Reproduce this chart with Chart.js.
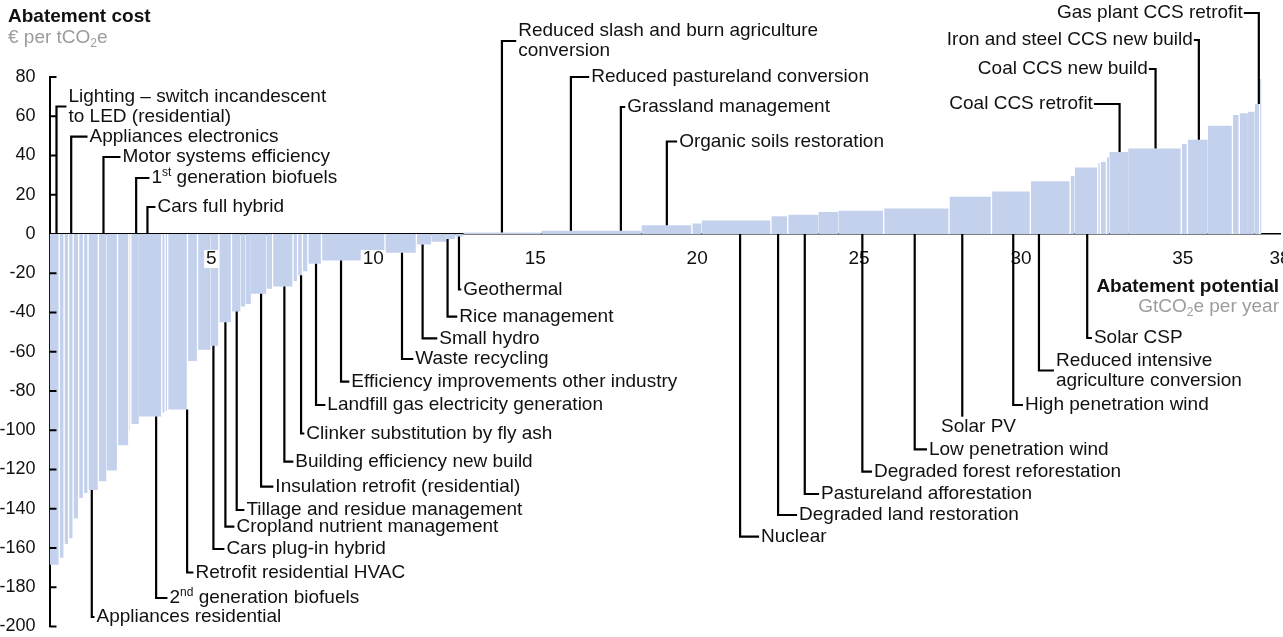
<!DOCTYPE html>
<html>
<head>
<meta charset="utf-8">
<script src="https://cdn.jsdelivr.net/npm/chart.js@4"></script>
<style>
  body { margin: 0; background: #fff; }
  #wrap { width: 1283px; height: 637px; }
</style>
</head>
<body>
<div id="wrap"><canvas id="curve" width="1283" height="637"></canvas></div>
<script>
// abatement potential of each lever (GtCO2e per year), left to right
const widths = [0.30, 0.15, 0.14, 0.14, 0.17, 0.15, 0.14, 0.32, 0.25, 0.34,
                0.35, 0.06, 0.25, 0.71, 0.10, 0.08, 0.61, 0.31, 0.41, 0.25,
                0.39, 0.28, 0.15, 0.17, 0.48, 0.19, 0.63, 0.14, 0.15, 0.17,
                0.42, 1.96, 0.97, 0.46, 0.46, 0.28, 0.25, 2.41, 3.09, 1.56,
                0.30, 2.14, 0.52, 0.94, 0.62, 1.40, 2.02, 1.31, 1.20, 1.23,
                0.14, 0.71, 0.08, 0.19, 0.09, 0.58, 1.64, 0.19, 0.63, 0.76,
                0.21, 0.27, 0.21, 0.15, 0.06];
// abatement cost of each lever (EUR per tCO2e)
const costs = [-168.5, -165, -158, -155, -145, -134.5, -132, -130.5, -126, -120.5,
               -107.7, -100, -96.8, -93, -91, -90, -89.4, -64.7, -59, -57,
               -45, -39.5, -37, -35.7, -30.4, -27.9, -26.7, -24, -21, -19,
               -15.2, -13.5, -9.6, -5.3, -4, -2.5, -1.3, 0.8, 1.7, 4.5,
               5.4, 6.9, 9.1, 9.8, 11.2, 11.9, 13, 19, 21.6, 26.9,
               29.6, 33.9, 36, 36.7, 39, 41.8, 43.6, 45.8, 48, 55.1,
               60.6, 61.5, 62.3, 66.2, 79];
// white separator after these bars (1-based)
const gapAfterBar = [1, 2, 3, 4, 5, 6, 7, 8, 10, 11, 12, 14, 15, 16, 17, 18, 20, 21,
                     26, 27, 28, 29, 30, 31, 32, 33, 40, 42, 43, 46, 47, 48, 49, 50,
                     52, 53, 54, 57, 58, 60, 61, 64];
const xTicks = [5, 10, 15, 20, 25, 30, 35, 38];

// callouts: text, leader position (Gt), leader level (EUR), text start/end (Gt)
const callouts = [
  {t: ['Lighting – switch incandescent', 'to LED (residential)'], at: 0.216, lv: 64.97, tx: 0.586},
  {t: ['Appliances electronics'], at: 0.670, lv: 49.58, tx: 1.235},
  {t: ['Motor systems efficiency'], at: 1.667, lv: 39.24, tx: 2.253},
  {t: ['1^{st} generation biofuels'], at: 2.676, lv: 28.54, tx: 3.148},
  {t: ['Cars full hybrid'], at: 3.025, lv: 13.76, tx: 3.333},
  {t: ['Appliances residential'], at: 1.306, lv: -195.16, tx: 1.451},
  {t: ['2^{nd} generation biofuels'], at: 3.293, lv: -185.48, tx: 3.704},
  {t: ['Retrofit residential HVAC'], at: 4.250, lv: -172.48, tx: 4.506},
  {t: ['Cars plug-in hybrid'], at: 5.062, lv: -160.51, tx: 5.463},
  {t: ['Cropland nutrient management'], at: 5.432, lv: -149.15, tx: 5.772},
  {t: ['Tillage and residue management'], at: 5.781, lv: -140.64, tx: 6.080},
  {t: ['Insulation retrofit (residential)'], at: 6.534, lv: -128.76, tx: 6.975},
  {t: ['Building efficiency new build'], at: 7.253, lv: -116.03, tx: 7.593},
  {t: ['Clinker substitution by fly ash'], at: 7.769, lv: -101.66, tx: 7.932},
  {t: ['Landfill gas electricity generation'], at: 8.231, lv: -87.13, tx: 8.580},
  {t: ['Efficiency improvements other industry'], at: 9.003, lv: -75.26, tx: 9.321},
  {t: ['Waste recycling'], at: 10.886, lv: -63.69, tx: 11.296},
  {t: ['Small hydro'], at: 11.522, lv: -53.15, tx: 12.037},
  {t: ['Rice management'], at: 12.293, lv: -42.14, tx: 12.654},
  {t: ['Geothermal'], at: 12.645, lv: -28.28, tx: 12.778},
  {t: ['Reduced slash and burn agriculture', 'conversion'], at: 13.972, lv: 98.34, tx: 14.475},
  {t: ['Reduced pastureland conversion'], at: 16.102, lv: 80.0, tx: 16.728},
  {t: ['Grassland management'], at: 17.645, lv: 64.71, tx: 17.840},
  {t: ['Organic soils restoration'], at: 19.065, lv: 47.13, tx: 19.444},
  {t: ['Nuclear'], at: 21.327, lv: -154.24, tx: 21.975},
  {t: ['Degraded land restoration'], at: 22.500, lv: -143.18, tx: 23.148},
  {t: ['Pastureland afforestation'], at: 23.324, lv: -132.48, tx: 23.827},
  {t: ['Degraded forest reforestation'], at: 25.102, lv: -121.12, tx: 25.463},
  {t: ['Low penetration wind'], at: 26.719, lv: -109.71, tx: 27.160},
  {t: ['Solar PV'], at: 28.188, lv: -93.10, tx: 27.531, ty: -98.34},
  {t: ['High penetration wind'], at: 29.762, lv: -87.13, tx: 30.123},
  {t: ['Reduced intensive', 'agriculture conversion'], at: 30.556, lv: -69.55, tx: 31.080},
  {t: ['Solar CSP'], at: 32.046, lv: -53.0, tx: 32.253},
  {t: ['Gas plant CCS retrofit'], at: 37.346, lv: 112.61, tx: 36.852},
  {t: ['Iron and steel CCS new build'], at: 35.494, lv: 98.85, tx: 35.309},
  {t: ['Coal CCS new build'], at: 34.157, lv: 84.08, tx: 33.920},
  {t: ['Coal CCS retrofit'], at: 33.046, lv: 66.24, tx: 32.222}
];

const FONT = '"Liberation Sans", Arial, Helvetica, sans-serif';
const BAR = '#c4d1ed';
const LABEL_SIZE = 19;

let acc = 0;
const starts = widths.map(w => { const s = acc; acc += w; return s; });

const datasets = costs.map((c, i) => ({
  data: [{x: starts[i], y: c}, {x: starts[i] + widths[i], y: c}],
  fill: 'origin',
  backgroundColor: BAR,
  borderWidth: 0,
  pointRadius: 0,
  pointHoverRadius: 0
}));

// text with ^{sup} and _{sub} parts
function richParts(str) {
  return str.split(/(\^\{[^}]*\}|_\{[^}]*\})/).filter(s => s.length).map(s => {
    if (s[0] === '^') return {s: s.slice(2, -1), k: 'sup'};
    if (s[0] === '_') return {s: s.slice(2, -1), k: 'sub'};
    return {s: s, k: ''};
  });
}
function drawRich(ctx, str, x, y, align, size, weight, color) {
  const parts = richParts(str);
  const fontOf = k => `${weight} ${k ? Math.round(size * 0.62) : size}px ${FONT}`;
  let total = 0;
  parts.forEach(p => { ctx.font = fontOf(p.k); p.w = ctx.measureText(p.s).width; total += p.w; });
  let cx = align === 'right' ? x - total : align === 'center' ? x - total / 2 : x;
  ctx.fillStyle = color;
  ctx.textAlign = 'left';
  ctx.textBaseline = 'middle';
  parts.forEach(p => {
    ctx.font = fontOf(p.k);
    const dy = p.k === 'sup' ? -size * 0.3 : p.k === 'sub' ? size * 0.28 : 0;
    ctx.fillText(p.s, cx, y + dy);
    cx += p.w;
  });
  return total;
}

function costAt(v) {
  for (let i = 0; i < widths.length; i++) {
    if (v >= starts[i] && v < starts[i] + widths[i]) return costs[i];
  }
  return 0;
}

const curvePlugin = {
  id: 'curve',
  afterDatasetsDraw(chart) {
    const {ctx, scales: {x, y}} = chart;
    const y0 = y.getPixelForValue(0);
    ctx.save();
    ctx.strokeStyle = '#fff';
    ctx.lineWidth = 1.3;
    gapAfterBar.forEach(n => {
      const px = x.getPixelForValue(starts[n]);
      const a = y.getPixelForValue(costs[n - 1]);
      const b = y.getPixelForValue(costs[n]);
      ctx.beginPath();
      ctx.moveTo(px, Math.min(y0, a, b));
      ctx.lineTo(px, Math.max(y0, a, b));
      ctx.stroke();
    });
    ctx.restore();
  },
  afterDraw(chart) {
    const {ctx, chartArea, scales: {x, y}} = chart;
    ctx.save();
    // inner ticks on the cost axis
    ctx.strokeStyle = '#000';
    ctx.lineWidth = 2;
    y.ticks.forEach(t => {
      if (t.value === 0) return;
      const py = y.getPixelForValue(t.value);
      ctx.beginPath();
      ctx.moveTo(chartArea.left, py);
      ctx.lineTo(chartArea.left + 7, py);
      ctx.stroke();
    });

    // potential tick labels, on a white backdrop, just under the zero line
    const ly0 = y.getPixelForValue(0) + 25;
    xTicks.forEach(v => {
      const px = x.getPixelForValue(v);
      ctx.font = `${LABEL_SIZE}px ${FONT}`;
      const w = ctx.measureText(String(v)).width;
      ctx.fillStyle = '#fff';
      ctx.fillRect(px - w / 2 - 2, ly0 - 9, w + 4, 18);
      drawRich(ctx, String(v), px, ly0, 'center', LABEL_SIZE, 'normal', '#111');
    });

    // callouts
    callouts.forEach(c => {
      const lx = x.getPixelForValue(c.at);
      const ly = y.getPixelForValue(c.lv);
      const bc = costAt(c.at);
      const startV = (bc > 0) === (c.lv > 0) ? bc : 0;
      const sy = y.getPixelForValue(startV);
      const tx = x.getPixelForValue(c.tx);
      const free = c.ty !== undefined;
      const right = !free && tx < lx;
      ctx.strokeStyle = '#000';
      ctx.lineWidth = 2.2;
      ctx.lineJoin = 'miter';
      ctx.beginPath();
      ctx.moveTo(lx, sy);
      ctx.lineTo(lx, ly);
      if (!free) ctx.lineTo(right ? tx + 1 : tx - 2, ly);
      ctx.stroke();
      const ty = free ? y.getPixelForValue(c.ty) : ly;
      const n = c.t.length;
      c.t.forEach((line, k) => {
        drawRich(ctx, line, tx, ty + (k - (n - 1) / 2) * 20, right ? 'right' : 'left',
                 LABEL_SIZE, 'normal', '#111');
      });
    });

    // axis titles
    drawRich(ctx, 'Abatement cost', 8, 17, 'left', 19, 'bold', '#111');
    drawRich(ctx, '€ per tCO_{2}e', 8, 38, 'left', 19, 'normal', '#9c9c9c');
    drawRich(ctx, 'Abatement potential', 1279, 287, 'right', 19, 'bold', '#111');
    drawRich(ctx, 'GtCO_{2}e per year', 1279, 307, 'right', 19, 'normal', '#9c9c9c');
    ctx.restore();
  }
};

new Chart(document.getElementById('curve'), {
  type: 'line',
  data: {datasets: datasets},
  options: {
    responsive: false,
    animation: false,
    events: [],
    layout: {padding: {top: 77, bottom: 10.5, left: 0, right: 3}},
    plugins: {legend: {display: false}, tooltip: {enabled: false}},
    scales: {
      x: {
        type: 'linear',
        position: {y: 0},
        min: 0,
        max: 38,
        z: 1,
        grid: {display: false, drawTicks: false},
        border: {display: true, color: '#000', width: 1.6},
        afterBuildTicks: s => { s.ticks = xTicks.map(v => ({value: v})); },
        afterFit: s => { s.paddingLeft = 0; s.paddingRight = 0; },
        ticks: {display: false}
      },
      y: {
        type: 'linear',
        position: 'left',
        min: -200,
        max: 80,
        z: 1,
        grid: {display: false, drawTicks: false},
        border: {display: true, color: '#000', width: 2},
        afterFit: s => { s.width = 49.5; s.paddingTop = 0; s.paddingBottom = 0; },
        ticks: {
          stepSize: 20,
          padding: 14,
          color: '#111',
          font: {family: FONT, size: 18}
        }
      }
    }
  },
  plugins: [curvePlugin]
});
</script>
</body>
</html>
